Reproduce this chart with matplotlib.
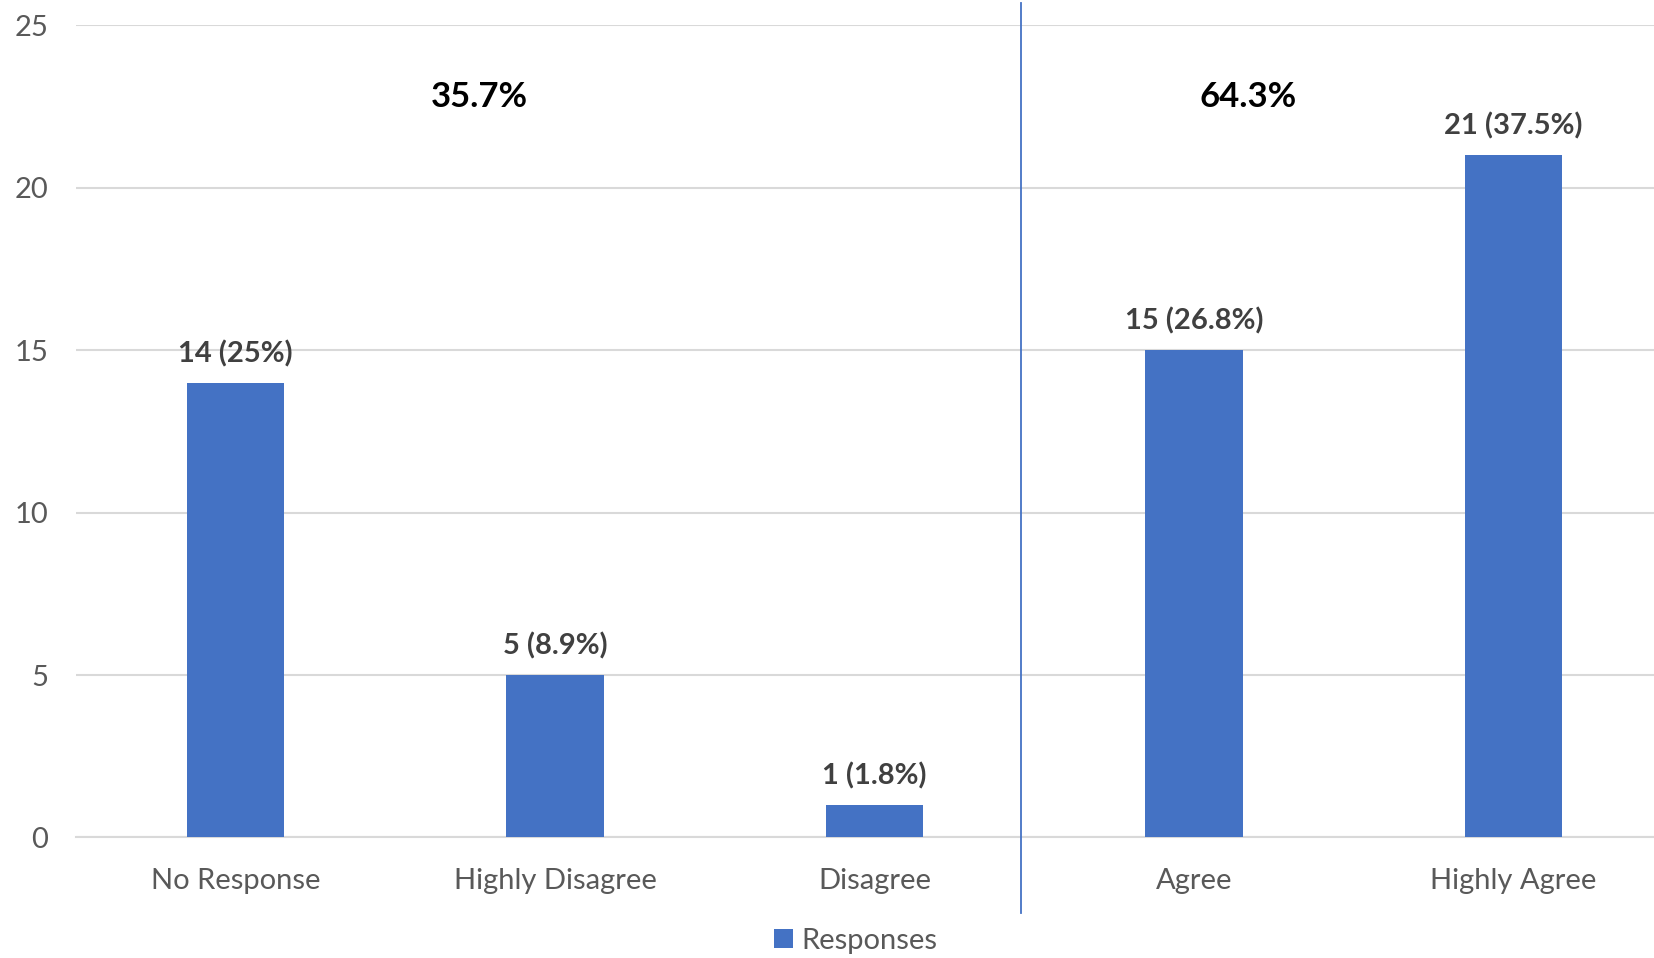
import matplotlib
matplotlib.use("Agg")
import matplotlib.pyplot as plt
import matplotlib.transforms as mtransforms
from matplotlib.patches import Patch

categories = ["No Response", "Highly Disagree", "Disagree", "Agree", "Highly Agree"]
responses = [14, 5, 1, 15, 21]
pct_labels = ["25%", "8.9%", "1.8%", "26.8%", "37.5%"]
group_labels = ["35.7%", "64.3%"]
yticks = [0, 5, 10, 15, 20, 25]

# layout (not data)
group_label_x = [0.763, 3.17]
group_label_y = 22.78
divider_x = 2.46

plt.rcParams['font.family'] = ['Lato', 'DejaVu Sans']

fig = plt.figure(figsize=(16.54, 9.58), dpi=100)
ax = fig.add_axes([0.046, 0.1258, 0.9655, 0.848])

bar_color = "#4472C4"
x = list(range(len(categories)))
bars = ax.bar(x, responses, width=0.305, color=bar_color, zorder=3)

for xi, v, p in zip(x, responses, pct_labels):
    ax.annotate(f"{v} ({p})", (xi, v), xytext=(0, 11), textcoords="offset points",
                ha="center", va="bottom", fontsize=21, fontweight="bold", color="#404040")

for gx, gl in zip(group_label_x, group_labels):
    ax.text(gx, group_label_y, gl, ha="center", va="center", fontsize=25,
            fontweight="bold", color="black")

ax.set_xlim(-0.5, len(categories) - 0.5)
ax.set_ylim(0, 25)
ax.set_yticks(yticks)
ax.set_yticklabels([str(t) for t in yticks])
ax.set_xticks(x)
ax.set_xticklabels(categories)
ax.tick_params(axis="both", length=0, labelsize=21, labelcolor="#595959")
ax.tick_params(axis="y", pad=20)
ax.tick_params(axis="x", pad=22)
ax.grid(axis="y", color="#d9d9d9", linewidth=1.5, zorder=0)
for s in ["top", "right", "left"]:
    ax.spines[s].set_visible(False)
ax.spines["bottom"].set_color("#d9d9d9")
ax.spines["bottom"].set_linewidth(1.5)

trans = mtransforms.blended_transform_factory(ax.transData, fig.transFigure)
ax.plot([divider_x, divider_x], [1 - 3 / 958, 1 - 913 / 958], transform=trans,
        color=bar_color, linewidth=1.3, clip_on=False, zorder=4)

handles = [Patch(facecolor=bar_color, label="Responses")]
fig.legend(handles=handles, loc="center", bbox_to_anchor=(0.5175, 1 - 941 / 958),
           frameon=False, fontsize=21, handlelength=0.65, handleheight=0.65,
           handletextpad=0.3, labelcolor="#595959")

fig.savefig("out.png", dpi=100)
